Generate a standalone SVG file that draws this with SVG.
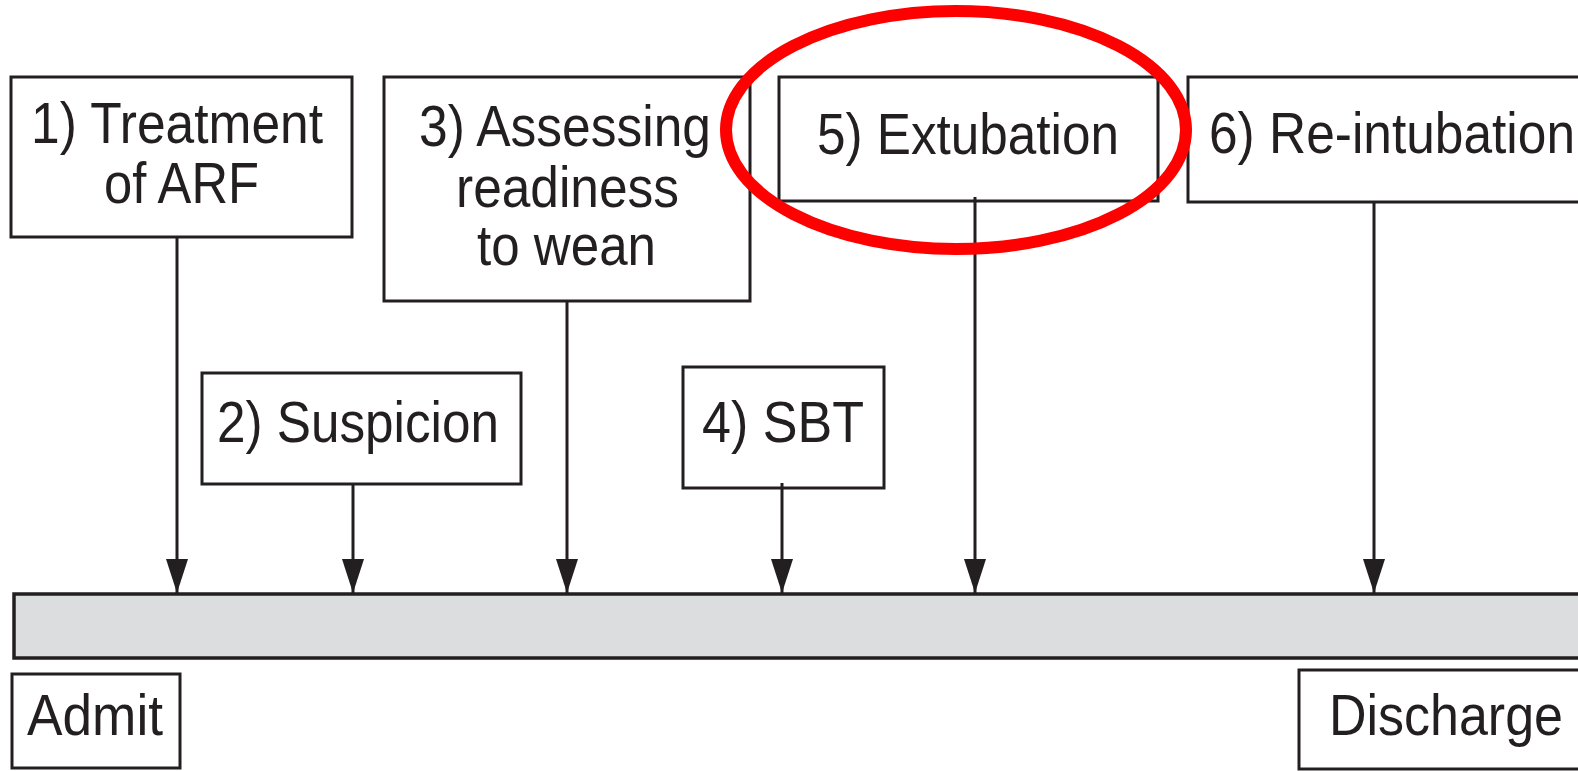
<svg xmlns="http://www.w3.org/2000/svg" width="1578" height="771" viewBox="0 0 1578 771">
<defs>
<marker id="ah" markerUnits="userSpaceOnUse" markerWidth="34" markerHeight="24" refX="34" refY="11" orient="auto" viewBox="0 0 34 22">
<path d="M0,0 L34,11 L0,22 z" fill="#231f20"/>
</marker>
<style>
.box{fill:#ffffff;stroke:#231f20;stroke-width:3}
.bar{fill:#dcdddf;stroke:#231f20;stroke-width:3.5}
.t{font-family:"Liberation Sans",Arial,Helvetica,sans-serif;font-size:58px;fill:#231f20}
.c{stroke:#231f20;stroke-width:3;fill:none}
</style>
</defs>
<rect x="0" y="0" width="1578" height="771" fill="#ffffff"/>
<g id="timeline">
<rect class="bar" x="14" y="594" width="1590" height="64"/>
</g>
<g id="node1">
<rect class="box" x="11" y="77" width="341" height="160"/>
<text class="t" x="31" y="143" textLength="292" lengthAdjust="spacingAndGlyphs">1) Treatment</text>
<text class="t" x="104" y="203" textLength="155" lengthAdjust="spacingAndGlyphs">of ARF</text>
</g>
<g id="node2">
<rect class="box" x="202" y="373" width="319" height="111"/>
<text class="t" x="217" y="442" textLength="282" lengthAdjust="spacingAndGlyphs">2) Suspicion</text>
</g>
<g id="node3">
<rect class="box" x="384" y="77" width="366" height="224"/>
<text class="t" x="419" y="146" textLength="292" lengthAdjust="spacingAndGlyphs">3) Assessing</text>
<text class="t" x="456" y="207" textLength="223" lengthAdjust="spacingAndGlyphs">readiness</text>
<text class="t" x="477" y="265" textLength="179" lengthAdjust="spacingAndGlyphs">to wean</text>
</g>
<g id="node4">
<rect class="box" x="683" y="367" width="201" height="121"/>
<text class="t" x="702" y="442" textLength="162" lengthAdjust="spacingAndGlyphs">4) SBT</text>
</g>
<g id="node5">
<rect class="box" x="779" y="77" width="379" height="124"/>
<text class="t" x="817" y="154" textLength="302" lengthAdjust="spacingAndGlyphs">5) Extubation</text>
</g>
<g id="node6">
<rect class="box" x="1188" y="77" width="400" height="125"/>
<text class="t" x="1209" y="153" textLength="366" lengthAdjust="spacingAndGlyphs">6) Re-intubation</text>
</g>
<g id="admit">
<rect class="box" x="12" y="674" width="168" height="94"/>
<text class="t" x="27" y="735" textLength="136" lengthAdjust="spacingAndGlyphs">Admit</text>
</g>
<g id="discharge">
<rect class="box" x="1299" y="670" width="300" height="99"/>
<text class="t" x="1329" y="735" textLength="234" lengthAdjust="spacingAndGlyphs">Discharge</text>
</g>
<g id="connectors">
<line class="c" x1="177" y1="237" x2="177" y2="593" marker-end="url(#ah)"/>
<line class="c" x1="353" y1="484" x2="353" y2="593" marker-end="url(#ah)"/>
<line class="c" x1="567" y1="301" x2="567" y2="593" marker-end="url(#ah)"/>
<line class="c" x1="782" y1="483" x2="782" y2="593" marker-end="url(#ah)"/>
<line class="c" x1="975" y1="197" x2="975" y2="593" marker-end="url(#ah)"/>
<line class="c" x1="1374" y1="202" x2="1374" y2="593" marker-end="url(#ah)"/>
</g>
<g id="highlight">
<ellipse cx="956" cy="130" rx="230" ry="119" fill="none" stroke="#ff0000" stroke-width="12"/>
</g>
</svg>
